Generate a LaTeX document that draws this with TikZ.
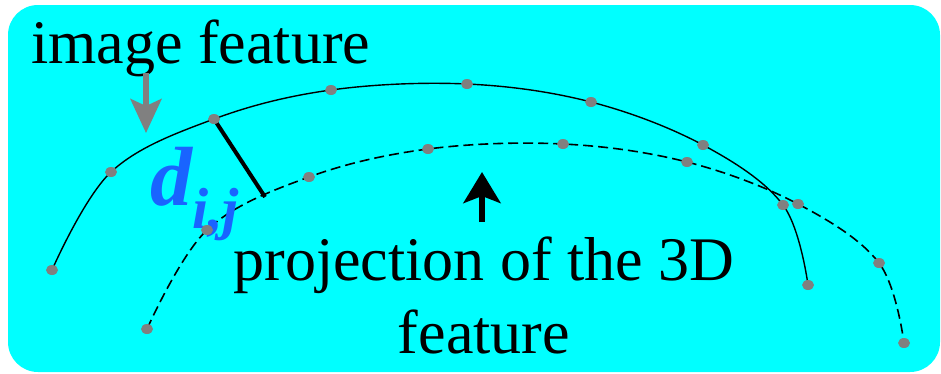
\documentclass[tikz,border=0pt]{standalone}
\usepackage{fontspec}
\setmainfont{Liberation Serif}
\newfontfamily\timesfont{Liberation Serif}
\usetikzlibrary{arrows.meta}
\definecolor{bgcyan}{RGB}{0,255,255}
\definecolor{dotgray}{RGB}{128,128,128}
\definecolor{dblue}{RGB}{25,100,255}
\tikzset{
  curveline/.style={line width=1.4pt, black},
  dashcurve/.style={line width=1.6pt, black, dash pattern=on 10pt off 5pt},
  ptdot/.style={fill=dotgray},
  bigtext/.style={inner sep=0pt, font=\timesfont\fontsize{62pt}{73pt}\selectfont, text=black},
  grayarrow/.style={line width=5.5pt, dotgray, -{Stealth[length=34pt,width=31pt,inset=7pt]}},
  blackarrow/.style={line width=6.5pt, black, -{Stealth[length=31pt,width=37pt,inset=7pt]}},
  distline/.style={line width=4pt, black}
}
\begin{document}
\begin{tikzpicture}[x=1pt,y=-1pt]
\useasboundingbox (0,0) rectangle (941,373);
\fill[bgcyan, rounded corners=30pt] (8,5) rectangle (940,372);
% texts first
\node[bigtext, anchor=base west] (imgf) at (31,63) {image feature};
\node[bigtext, anchor=base] (proj1) at (484,280) {projection of the 3D};
\node[bigtext, anchor=base] (proj2) at (484,353) {feature};
% image feature curve points
\coordinate (a1) at (52,270);
\coordinate (a2) at (111,172);
\coordinate (a3) at (214,119);
\coordinate (a4) at (331,90);
\coordinate (a5) at (467,84);
\coordinate (a6) at (591,102);
\coordinate (a7) at (703,145);
\coordinate (a8) at (783,205);
\coordinate (a9) at (808,285);
% projection curve points
\coordinate (b1) at (147,329);
\coordinate (b2) at (207,230);
\coordinate (b3) at (309,177);
\coordinate (b4) at (428,149);
\coordinate (b5) at (563,144);
\coordinate (b6) at (687,162);
\coordinate (b7) at (798,204);
\coordinate (b8) at (879,263);
\coordinate (b9) at (904,343);
\draw[curveline] plot[smooth, tension=0.6] coordinates {(a1) (a2) (a3) (a4) (a5) (a6) (a7) (a8) (a9)};
\draw[dashcurve] plot[smooth, tension=0.6] coordinates {(b1) (b2) (b3) (b4) (b5) (b6) (b7) (b8) (b9)};
% distance segment
\coordinate (dend) at (265,197);
\draw[distline] (a3) -- (dend);
% arrows
\coordinate (ga1) at (146,73);
\coordinate (ga2) at (146,133);
\draw[grayarrow] (ga1) -- (ga2);
\coordinate (ba1) at (482,222);
\coordinate (ba2) at (482,172);
\draw[blackarrow] (ba1) -- (ba2);
\node[inner sep=0pt, anchor=base west, text=dblue] (dij) at (150,205)
  {\timesfont\fontsize{84pt}{84pt}\selectfont\bfseries\itshape d\raisebox{-23pt}{\fontsize{58pt}{58pt}\selectfont i,j}};
% dots
\foreach \p in {a1,a2,a3,a4,a5,a6,a7,a8,a9,b1,b2,b3,b4,b5,b6,b7,b8,b9}
  \fill[ptdot] (\p) ellipse [x radius=6pt, y radius=5pt];
\end{tikzpicture}
\end{document}
